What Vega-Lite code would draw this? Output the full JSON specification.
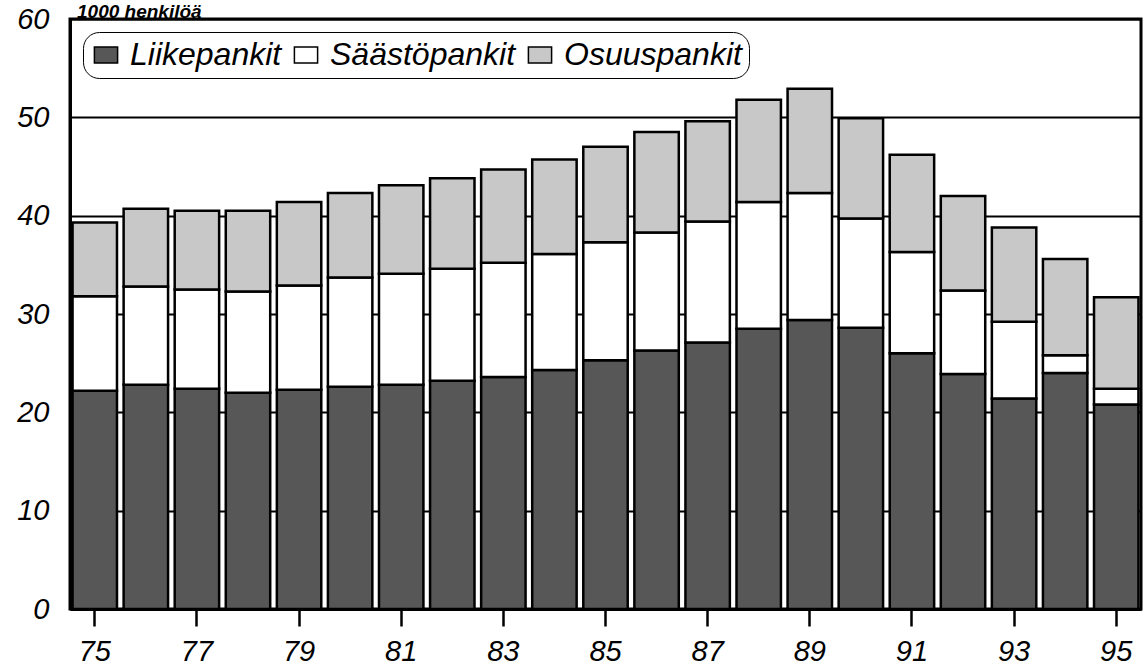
{
  "$schema": "https://vega.github.io/schema/vega-lite/v6.json",
  "autosize": "none",
  "width": 1071,
  "height": 590,
  "padding": {"left": 70, "top": 19, "right": 7, "bottom": 59},
  "background": "white",
  "title": {
    "text": "1000 henkilöä",
    "anchor": "start",
    "frame": "group",
    "baseline": "alphabetic",
    "offset": 0,
    "dx": 7,
    "dy": 32,
    "font": "Liberation Sans",
    "fontSize": 19,
    "fontStyle": "italic",
    "fontWeight": "bold",
    "color": "black"
  },
  "config": {
    "view": {"stroke": "black", "strokeWidth": 3},
    "font": "Liberation Sans"
  },
  "data": {
    "values": [
      {"year": "75", "bank": "Liikepankit", "o": 1, "value": 22.2},
      {"year": "75", "bank": "Säästöpankit", "o": 2, "value": 9.6},
      {"year": "75", "bank": "Osuuspankit", "o": 3, "value": 7.5},
      {"year": "76", "bank": "Liikepankit", "o": 1, "value": 22.8},
      {"year": "76", "bank": "Säästöpankit", "o": 2, "value": 10.0},
      {"year": "76", "bank": "Osuuspankit", "o": 3, "value": 7.9},
      {"year": "77", "bank": "Liikepankit", "o": 1, "value": 22.4},
      {"year": "77", "bank": "Säästöpankit", "o": 2, "value": 10.1},
      {"year": "77", "bank": "Osuuspankit", "o": 3, "value": 8.0},
      {"year": "78", "bank": "Liikepankit", "o": 1, "value": 22.0},
      {"year": "78", "bank": "Säästöpankit", "o": 2, "value": 10.3},
      {"year": "78", "bank": "Osuuspankit", "o": 3, "value": 8.2},
      {"year": "79", "bank": "Liikepankit", "o": 1, "value": 22.3},
      {"year": "79", "bank": "Säästöpankit", "o": 2, "value": 10.6},
      {"year": "79", "bank": "Osuuspankit", "o": 3, "value": 8.5},
      {"year": "80", "bank": "Liikepankit", "o": 1, "value": 22.6},
      {"year": "80", "bank": "Säästöpankit", "o": 2, "value": 11.1},
      {"year": "80", "bank": "Osuuspankit", "o": 3, "value": 8.6},
      {"year": "81", "bank": "Liikepankit", "o": 1, "value": 22.8},
      {"year": "81", "bank": "Säästöpankit", "o": 2, "value": 11.3},
      {"year": "81", "bank": "Osuuspankit", "o": 3, "value": 9.0},
      {"year": "82", "bank": "Liikepankit", "o": 1, "value": 23.2},
      {"year": "82", "bank": "Säästöpankit", "o": 2, "value": 11.4},
      {"year": "82", "bank": "Osuuspankit", "o": 3, "value": 9.2},
      {"year": "83", "bank": "Liikepankit", "o": 1, "value": 23.6},
      {"year": "83", "bank": "Säästöpankit", "o": 2, "value": 11.6},
      {"year": "83", "bank": "Osuuspankit", "o": 3, "value": 9.5},
      {"year": "84", "bank": "Liikepankit", "o": 1, "value": 24.3},
      {"year": "84", "bank": "Säästöpankit", "o": 2, "value": 11.8},
      {"year": "84", "bank": "Osuuspankit", "o": 3, "value": 9.6},
      {"year": "85", "bank": "Liikepankit", "o": 1, "value": 25.3},
      {"year": "85", "bank": "Säästöpankit", "o": 2, "value": 12.0},
      {"year": "85", "bank": "Osuuspankit", "o": 3, "value": 9.7},
      {"year": "86", "bank": "Liikepankit", "o": 1, "value": 26.3},
      {"year": "86", "bank": "Säästöpankit", "o": 2, "value": 12.0},
      {"year": "86", "bank": "Osuuspankit", "o": 3, "value": 10.2},
      {"year": "87", "bank": "Liikepankit", "o": 1, "value": 27.1},
      {"year": "87", "bank": "Säästöpankit", "o": 2, "value": 12.3},
      {"year": "87", "bank": "Osuuspankit", "o": 3, "value": 10.2},
      {"year": "88", "bank": "Liikepankit", "o": 1, "value": 28.5},
      {"year": "88", "bank": "Säästöpankit", "o": 2, "value": 12.9},
      {"year": "88", "bank": "Osuuspankit", "o": 3, "value": 10.4},
      {"year": "89", "bank": "Liikepankit", "o": 1, "value": 29.4},
      {"year": "89", "bank": "Säästöpankit", "o": 2, "value": 12.9},
      {"year": "89", "bank": "Osuuspankit", "o": 3, "value": 10.6},
      {"year": "90", "bank": "Liikepankit", "o": 1, "value": 28.6},
      {"year": "90", "bank": "Säästöpankit", "o": 2, "value": 11.1},
      {"year": "90", "bank": "Osuuspankit", "o": 3, "value": 10.2},
      {"year": "91", "bank": "Liikepankit", "o": 1, "value": 26.0},
      {"year": "91", "bank": "Säästöpankit", "o": 2, "value": 10.3},
      {"year": "91", "bank": "Osuuspankit", "o": 3, "value": 9.9},
      {"year": "92", "bank": "Liikepankit", "o": 1, "value": 23.9},
      {"year": "92", "bank": "Säästöpankit", "o": 2, "value": 8.5},
      {"year": "92", "bank": "Osuuspankit", "o": 3, "value": 9.6},
      {"year": "93", "bank": "Liikepankit", "o": 1, "value": 21.4},
      {"year": "93", "bank": "Säästöpankit", "o": 2, "value": 7.8},
      {"year": "93", "bank": "Osuuspankit", "o": 3, "value": 9.6},
      {"year": "94", "bank": "Liikepankit", "o": 1, "value": 24.0},
      {"year": "94", "bank": "Säästöpankit", "o": 2, "value": 1.8},
      {"year": "94", "bank": "Osuuspankit", "o": 3, "value": 9.8},
      {"year": "95", "bank": "Liikepankit", "o": 1, "value": 20.8},
      {"year": "95", "bank": "Säästöpankit", "o": 2, "value": 1.6},
      {"year": "95", "bank": "Osuuspankit", "o": 3, "value": 9.3}
    ]
  },
  "mark": {"type": "bar", "stroke": "black", "strokeWidth": 2.5, "opacity": 1},
  "encoding": {
    "x": {
      "field": "year",
      "type": "ordinal",
      "scale": {"paddingInner": 0.13, "paddingOuter": 0.05},
      "axis": {
        "title": null,
        "values": ["75", "77", "79", "81", "83", "85", "87", "89", "91", "93", "95"],
        "labelAngle": 0,
        "labelFont": "Liberation Sans",
        "labelFontSize": 29,
        "labelFontStyle": "italic",
        "labelColor": "black",
        "labelPadding": 11,
        "tickColor": "black",
        "tickSize": 17,
        "tickWidth": 2.5,
        "domainColor": "black",
        "domainWidth": 3,
        "grid": false
      }
    },
    "y": {
      "field": "value",
      "type": "quantitative",
      "stack": "zero",
      "scale": {"domain": [0, 60], "nice": false},
      "axis": {
        "title": null,
        "values": [0, 10, 20, 30, 40, 50, 60],
        "labelFont": "Liberation Sans",
        "labelFontSize": 29,
        "labelFontStyle": "italic",
        "labelColor": "black",
        "labelPadding": 21,
        "ticks": false,
        "domainColor": "black",
        "domainWidth": 3,
        "grid": true,
        "gridColor": "black",
        "gridWidth": 2,
        "gridOpacity": 1
      }
    },
    "order": {"field": "o", "type": "quantitative"},
    "color": {
      "field": "bank",
      "type": "nominal",
      "scale": {
        "domain": ["Liikepankit", "Säästöpankit", "Osuuspankit"],
        "range": ["#575757", "#ffffff", "#c8c8c8"]
      },
      "legend": {
        "title": null,
        "orient": "none",
        "direction": "horizontal",
        "legendX": 13,
        "legendY": 13,
        "padding": 7,
        "cornerRadius": 16,
        "strokeColor": "black",
        "fillColor": "white",
        "symbolType": "M-1.45,-1H1.45V1H-1.45Z",
        "symbolSize": 256,
        "symbolStrokeColor": "black",
        "symbolStrokeWidth": 1.5,
        "symbolOpacity": 1,
        "labelFont": "Liberation Sans",
        "labelFontSize": 32,
        "labelFontStyle": "italic",
        "labelColor": "black",
        "labelLimit": 500,
        "labelOffset": 8,
        "columnPadding": 8,
        "encoding": {
          "legend": {"update": {"strokeWidth": {"value": 2.5}}}
        }
      }
    }
  }
}
